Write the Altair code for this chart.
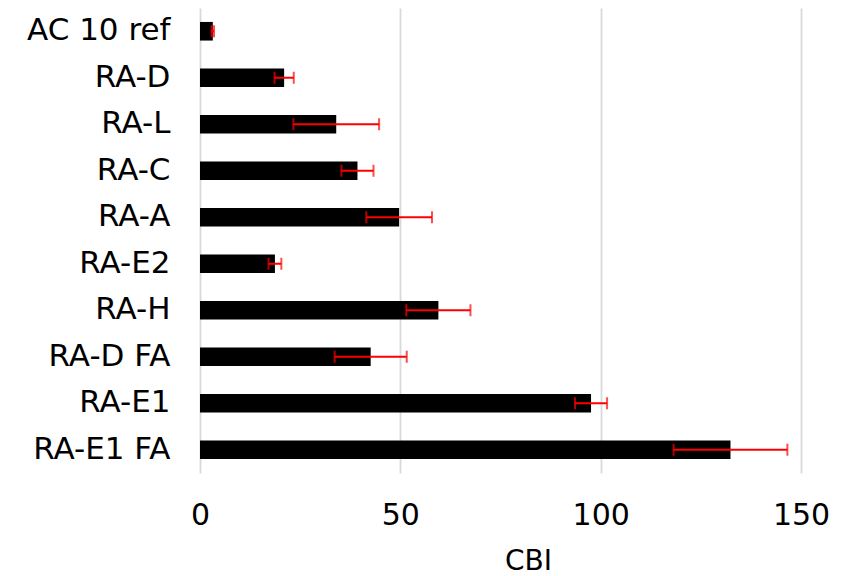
import altair as alt
import pandas as pd

# Samples listed top to bottom as they appear on the category axis
samples = ["AC 10 ref", "RA-D", "RA-L", "RA-C", "RA-A", "RA-E2",
           "RA-H", "RA-D FA", "RA-E1", "RA-E1 FA"]
cbi_mean = [3.2, 21.0, 34.0, 39.3, 49.7, 18.7, 59.5, 42.6, 97.6, 132.4]
cbi_err = [0.3, 2.4, 10.7, 4.0, 8.2, 1.6, 8.0, 9.0, 4.0, 14.2]
x_ticks = [0, 50, 100, 150]

df = pd.DataFrame({"sample": samples, "cbi": cbi_mean, "err": cbi_err})

FONT = "DejaVu Sans"

y_enc = alt.Y(
    "sample:N",
    sort=samples,
    title=None,
    scale=alt.Scale(paddingInner=0.6, paddingOuter=0.3),
    axis=alt.Axis(labelFont=FONT, labelFontSize=31, labelColor="#000000",
                  labelPadding=30, ticks=False, domain=False, grid=False),
)

x_scale = alt.Scale(domain=[0, 150], nice=False)

bars = alt.Chart(df).mark_bar(color="#000000").encode(
    x=alt.X("cbi:Q", scale=x_scale, title="CBI",
            axis=alt.Axis(values=x_ticks, labelFont=FONT, labelFontSize=30,
                          labelColor="#000000", labelPadding=27,
                          labelFlush=False, labelOverlap=False,
                          titleFont=FONT, titleFontSize=28,
                          titleFontWeight="normal", titleColor="#000000",
                          titleX=328, titleY=96, titleAlign="center",
                          titleBaseline="alphabetic",
                          ticks=False, domain=False,
                          grid=True, gridColor="#d9d9d9", gridWidth=1.8)),
    y=y_enc,
)

with_bounds = alt.Chart(df).transform_calculate(
    lo="datum.cbi - datum.err", hi="datum.cbi + datum.err"
)

err_line = with_bounds.mark_rule(color="#ff0000", strokeWidth=2).encode(
    x=alt.X("lo:Q", scale=x_scale), x2="hi:Q", y=y_enc
)
cap_lo = with_bounds.mark_tick(color="#ff0000", thickness=2, size=12).encode(
    x=alt.X("lo:Q", scale=x_scale), y=y_enc
)
cap_hi = with_bounds.mark_tick(color="#ff0000", thickness=2, size=12).encode(
    x=alt.X("hi:Q", scale=x_scale), y=y_enc
)

chart = alt.layer(bars, err_line, cap_lo, cap_hi).properties(
    width=601,
    height=465,
    autosize=alt.AutoSizeParams(type="none"),
    padding={"left": 200, "top": 8, "right": 55, "bottom": 103},
).configure_view(stroke=None)

chart.save("out.html", embed_options={"renderer": "svg", "actions": False})
